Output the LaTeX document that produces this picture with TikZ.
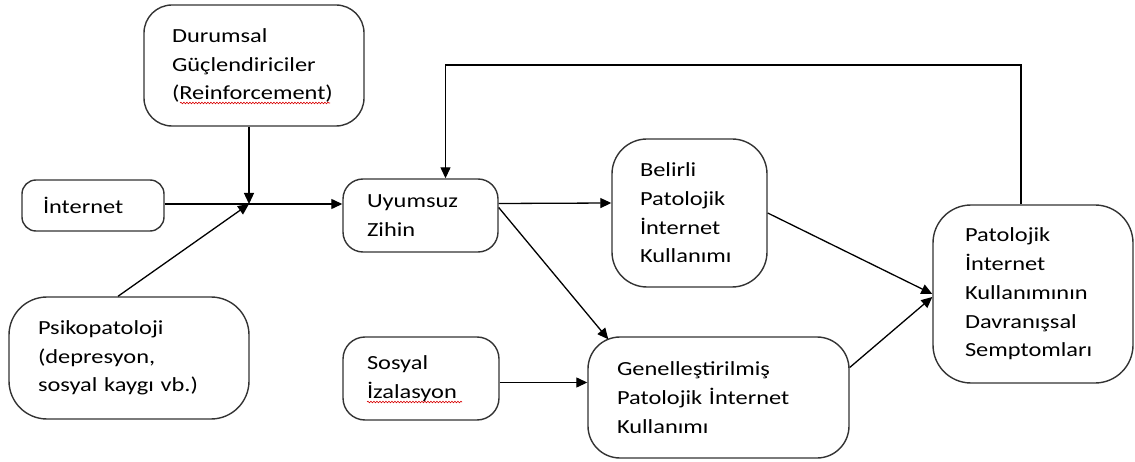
\documentclass[tikz,border=0pt]{standalone}
\usepackage{fontspec}
\setmainfont{Carlito}[FakeStretch=1.22]
\usetikzlibrary{arrows.meta,calc,decorations.pathmorphing}

\begin{document}
\begin{tikzpicture}[x=1pt,y=-1pt,
  box/.style={draw=black!80, line width=1.4pt, rounded corners=#1,
    align=left, anchor=center, inner ysep=0pt, text=black,
    font=\fontsize{20}{28.7}\selectfont},
  box/.default=30pt,
  conn/.style={draw=black, line width=1.3pt},
  arr/.style={conn, -{Triangle[length=11pt,width=10pt]}},
  squiggle/.style={draw=red!85!black, line width=0.6pt, decorate,
    decoration={snake, amplitude=0.8pt, segment length=3pt}}
]
\fill[white] (0,0) rectangle (1135,462);
\useasboundingbox (0,0) rectangle (1135,462);

% boxes
\node[box=28pt, minimum width=220pt, minimum height=121pt, text width=164pt, inner xsep=28pt]
  (dur) at (254,65.5) {Durumsal\\Güçlendiriciler\\(Reinforcement)};
\node[box=14pt, minimum width=142pt, minimum height=51pt, text width=100pt, inner xsep=21pt]
  (inet) at (93,205.5) {İnternet};
\node[box=20pt, minimum width=155pt, minimum height=73pt, text width=107pt, inner xsep=24pt]
  (uyum) at (420.5,215.5) {Uyumsuz\\Zihin};
\node[box=35pt, minimum width=155pt, minimum height=148pt, text width=99pt, inner xsep=28pt]
  (bel) at (689.5,213) {Belirli\\Patolojik\\İnternet\\Kullanımı};
\node[box=38pt, minimum width=200pt, minimum height=178pt, text width=136pt, inner xsep=32pt]
  (pat) at (1033,294) {Patolojik\\İnternet\\Kullanımının\\Davranışsal\\Semptomları};
\node[box=32pt, minimum width=261pt, minimum height=121pt, text width=203pt, inner xsep=29pt]
  (genel) at (718.5,397.5) {Genelleştirilmiş\\Patolojik İnternet\\Kullanımı};
\node[box=38pt, minimum width=240pt, minimum height=122pt, text width=182pt, inner xsep=29pt]
  (psiko) at (129,358) {Psikopatoloji\\(depresyon,\\sosyal kaygı vb.)};
\node[box=22pt, minimum width=156pt, minimum height=83pt, text width=108pt, inner xsep=24pt]
  (sos) at (421,378.5) {Sosyal\\İzalasyon};

% spell-check underlines
\draw[squiggle] (180,103) -- (330,103);
\draw[squiggle] (367,402) -- (462,402);

% junction where the inputs meet
\coordinate (J) at (249,204);
\coordinate (fb) at (0,65);

\draw[arr] (dur.south -| J) -- (J);
\draw[conn] (inet.east |- J) -- (J);
\draw[arr] ($(psiko.north)+(-11,0)$) -- (J);
\draw[arr] (J) -- (J -| uyum.west);

\draw[arr] ($(uyum.east)+(0,-12)$) -- ($(bel.west)+(0,-10)$);
\draw[arr] ($(uyum.east)+(0,-8)$) -- ($(genel.north west)+(21,3)$);
\draw[arr] ($(sos.east)+(0,4)$) -- ($(sos.east -| genel.west)+(0,4)$);

\draw[arr] (bel.east) -- (pat.west);
\draw[arr] ($(genel.east)+(0,-30)$) -- ($(pat.west)+(0,3)$);

% feedback loop
\draw[arr] ($(pat.north)+(-12,0)$) |- ($(uyum.north |- fb)+(25,0)$) -- ($(uyum.north)+(25,0)$);
\end{tikzpicture}
\end{document}
